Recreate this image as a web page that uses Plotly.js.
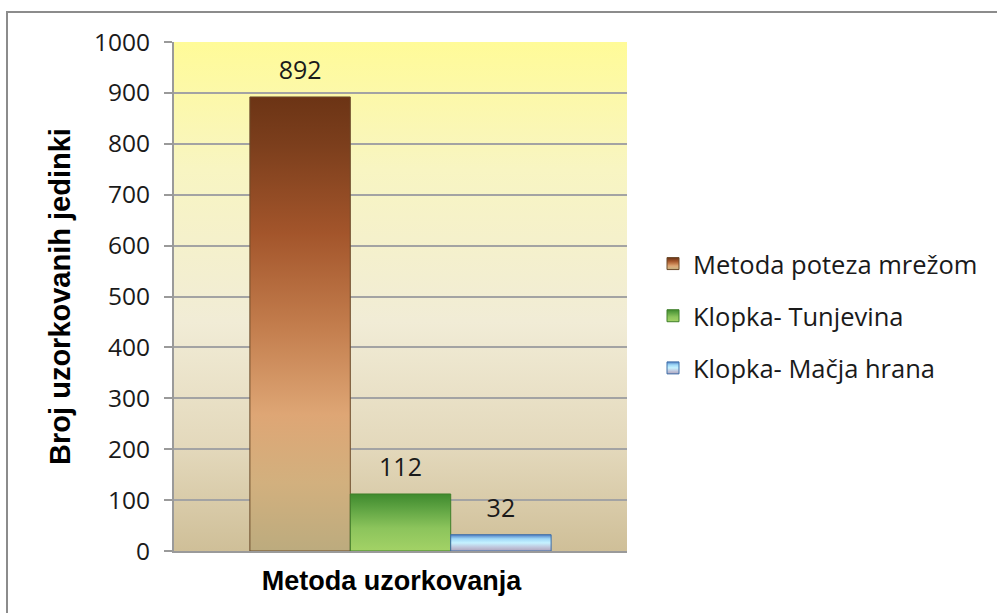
<!DOCTYPE html>
<html>
<head>
<meta charset="utf-8">
<script src="https://cdn.plot.ly/plotly-3.0.1.min.js"></script>
<style>
html,body{margin:0;padding:0;background:#fff;}
#chart{width:997px;height:613px;}
</style>
</head>
<body>
<div id="chart"></div>
<script>
// ---- data ----
var category = [''];
var seriesNames = ['Metoda poteza mrežom', 'Klopka- Tunjevina', 'Klopka- Mačja hrana'];
var seriesValues = [[892], [112], [32]];
var yTitle = 'Broj uzorkovanih jedinki';
var xTitle = 'Metoda uzorkovanja';

// ---- styles ----
var baseColors = ['#b26a3a', '#7cb64e', '#a9d8f0'];
var lineColors = ['#6b4a2a', '#3f7f2a', '#3d6ea8'];
var gradients = [
  [[0,'#6c3415'],[0.1,'#7b3e1c'],[0.3,'#a3552b'],[0.5,'#c27c4c'],[0.7,'#dea675'],[0.85,'#d2b07e'],[1,'#bcab7e']],
  [[0,'#3f8a2e'],[0.25,'#5ea342'],[0.6,'#8cc45c'],[1,'#a3d266']],
  [[0,'#4f7fc4'],[0.25,'#9fd8f7'],[0.5,'#c6f2ff'],[0.75,'#c0c8de'],[1,'#aea4bc']]
];

var traces = seriesNames.map(function(name, i){
  return {
    type: 'bar',
    name: name,
    x: category,
    y: seriesValues[i],
    text: seriesValues[i].map(String),
    textposition: 'outside',
    textfont: {family: 'Open Sans, sans-serif', size: 25, color: '#1a1a1a'},
    cliponaxis: false,
    marker: {color: baseColors[i], line: {color: lineColors[i], width: 1}},
    legendgroup: 'g' + i,
    hoverinfo: 'none'
  };
});

var bgSvg = '<svg xmlns="http://www.w3.org/2000/svg" width="100" height="100" preserveAspectRatio="none" viewBox="0 0 100 100">' +
  '<defs><linearGradient id="g" x1="0" y1="0" x2="0" y2="1">' +
  '<stop offset="0" stop-color="#fffb98"/><stop offset="0.25" stop-color="#f8f5c2"/>' +
  '<stop offset="0.55" stop-color="#f1ecd6"/><stop offset="0.8" stop-color="#e3d8bb"/>' +
  '<stop offset="1" stop-color="#cfbf98"/></linearGradient></defs>' +
  '<rect width="100" height="100" fill="url(#g)"/></svg>';
var bgUrl = 'data:image/svg+xml;charset=utf-8,' + encodeURIComponent(bgSvg);

var L = 174, R = 370, T = 42, B = 62;
var pw = 997 - L - R, ph = 613 - T - B;

var layout = {
  width: 997, height: 613,
  margin: {l: L, r: R, t: T, b: B, pad: 0},
  paper_bgcolor: '#ffffff',
  plot_bgcolor: 'rgba(0,0,0,0)',
  barmode: 'group',
  bargap: 0.335,
  bargroupgap: 0,
  showlegend: true,
  legend: {
    x: (653 - L) / pw, xanchor: 'left',
    y: (551 - 316) / ph, yanchor: 'middle',
    font: {family: 'Open Sans, sans-serif', size: 25.5, color: '#1a1a1a'},
    tracegroupgap: 16,
    bgcolor: 'rgba(0,0,0,0)',
    traceorder: 'grouped'
  },
  xaxis: {
    type: 'category',
    showticklabels: false,
    ticks: '',
    showgrid: false,
    showline: true, linecolor: '#9a9a9a', linewidth: 2,
    zeroline: false,
    fixedrange: true,
    title: {text: xTitle, font: {family: 'Liberation Sans, Arial, sans-serif', size: 27, color: '#000', weight: 'bold'}, standoff: 19}
  },
  yaxis: {
    range: [0, 1000],
    dtick: 100,
    tick0: 0,
    showgrid: true, gridcolor: '#a3a3a3', gridwidth: 2,
    zeroline: false,
    showline: true, linecolor: '#9a9a9a', linewidth: 2,
    ticks: 'outside', ticklen: 8, tickcolor: '#9a9a9a', tickwidth: 2,
    tickfont: {family: 'Open Sans, sans-serif', size: 24.5, color: '#1a1a1a'},
    ticklabelstandoff: 9,
    fixedrange: true,
    title: {text: yTitle, font: {family: 'Liberation Sans, Arial, sans-serif', size: 29, color: '#000', weight: 'bold'}, standoff: 15}
  },
  images: [{
    source: bgUrl, xref: 'x domain', yref: 'y domain',
    x: 0, y: 1, sizex: 1, sizey: 1, xanchor: 'left', yanchor: 'top',
    sizing: 'stretch', layer: 'below'
  }],
  shapes: [{
    type: 'rect', xref: 'paper', yref: 'paper',
    x0: (7 - L) / pw, x1: (1010 - L) / pw,
    y0: (551 - 630) / ph, y1: (551 - 12) / ph,
    line: {color: '#8c8c8c', width: 2}, fillcolor: 'rgba(0,0,0,0)', layer: 'below'
  }]
};

Plotly.newPlot('chart', traces, layout, {staticPlot: true, displayModeBar: false}).then(function(gd){
  var svg = gd.querySelector('svg.main-svg');
  var defs = svg.querySelector('defs');
  var NS = 'http://www.w3.org/2000/svg';
  gradients.forEach(function(stops, i){
    var lg = document.createElementNS(NS, 'linearGradient');
    lg.setAttribute('id', 'bargrad' + i);
    lg.setAttribute('x1', '0'); lg.setAttribute('y1', '0');
    lg.setAttribute('x2', '0'); lg.setAttribute('y2', '1');
    stops.forEach(function(s){
      var st = document.createElementNS(NS, 'stop');
      st.setAttribute('offset', s[0]);
      st.setAttribute('stop-color', s[1]);
      lg.appendChild(st);
    });
    defs.appendChild(lg);
  });
  var barTraces = gd.querySelectorAll('.barlayer .trace');
  barTraces.forEach(function(tr, i){
    tr.querySelectorAll('.point path').forEach(function(p){ p.style.fill = 'url(#bargrad' + i + ')'; });
    tr.querySelectorAll('.bartext').forEach(function(t){
      var tf = t.getAttribute('transform') || '';
      t.setAttribute('transform', 'translate(0,-8) ' + tf);
    });
  });
  var legPts = gd.querySelectorAll('.legend .traces');
  legPts.forEach(function(tr, i){
    tr.querySelectorAll('.legendpoints path').forEach(function(p){ p.style.fill = 'url(#bargrad' + i + ')'; });
  });
  var xt = gd.querySelector('.g-xtitle');
  if (xt) xt.setAttribute('transform', 'translate(-9,0)');
});
</script>
</body>
</html>
